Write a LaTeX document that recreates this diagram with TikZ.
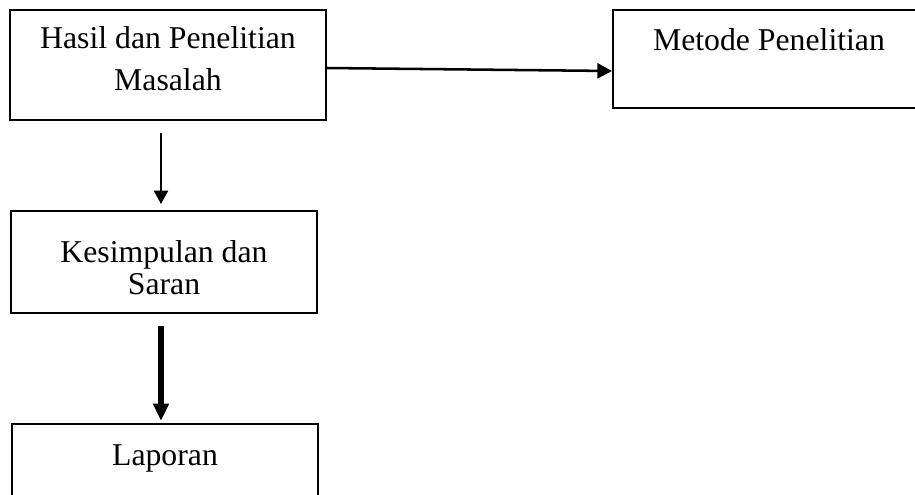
\documentclass[tikz,border=0pt]{standalone}
\usepackage{fontspec}
\setmainfont{Liberation Serif}
\usetikzlibrary{arrows.meta}
\begin{document}
\begin{tikzpicture}[x=0.75pt,y=-0.75pt,
  box/.style={draw,line width=1.5pt,inner sep=0pt},
  txt/.style={anchor=base,inner sep=0pt,font=\fontsize{23.8pt}{28pt}\selectfont},
  arr/.style={line width=1.5pt,-{Triangle[length=10pt,width=10.5pt]}}]
  \clip (0,0) rectangle (915,494);
  % boxes
  \node[box,minimum width=237pt,minimum height=82.5pt] (hasil) at (168,65) {};
  \node[box,minimum width=234pt,minimum height=73.5pt] (metode) at (769,59) {};
  \node[box,minimum width=229.5pt,minimum height=76.5pt] (kesimpulan) at (164,262) {};
  \node[box,minimum width=229.5pt,minimum height=72pt] (laporan) at (165,472) {};
  % texts
  \node[txt] (hasil1) at (168,48) {Hasil dan Penelitian};
  \node[txt] (hasil2) at (168,90) {Masalah};
  \node[txt] (metode1) at (769,50) {Metode Penelitian};
  \node[txt] (kesimpulan1) at (164,262) {Kesimpulan dan};
  \node[txt] (kesimpulan2) at (164,294) {Saran};
  \node[txt] (laporan1) at (165,465) {Laporan};
  % arrows
  \draw[arr,line width=1.9pt,-{Triangle[length=11pt,width=11.25pt]}]
    ([yshift=-2.25pt]hasil.east) -- ([yshift=-9pt]metode.west);
  \draw[arr] ([xshift=-5.25pt,yshift=-9pt]hasil.south)
    -- ([xshift=-2.25pt,yshift=4.5pt]kesimpulan.north);
  \draw[arr,line width=4.5pt,-{Triangle[length=13pt,width=11.25pt]}]
    ([xshift=-2.25pt,yshift=-9pt]kesimpulan.south)
    -- ([xshift=-3pt,yshift=1.5pt]laporan.north);
\end{tikzpicture}
\end{document}
